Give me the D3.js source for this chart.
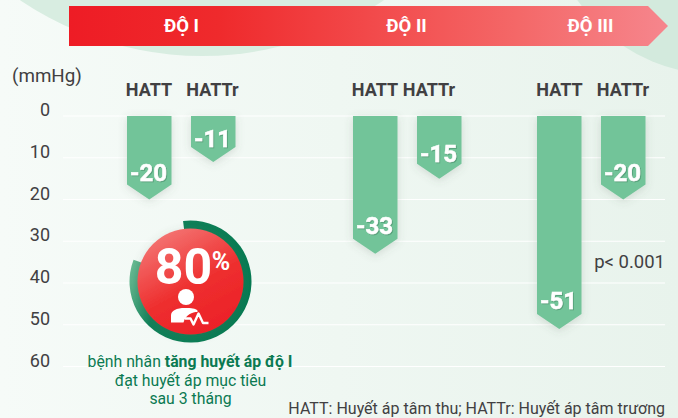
<!DOCTYPE html>
<html><head><meta charset="utf-8">
<script src="https://cdn.jsdelivr.net/npm/d3@7/dist/d3.min.js"></script>
<style>html,body{margin:0;padding:0;background:#f2f8f4}svg{display:block}text{font-family:Roboto,sans-serif}</style>
</head><body><div id="c"></div>
<script>
const grades = ["ĐỘ I","ĐỘ II","ĐỘ III"];
const measures = ["HATT","HATTr"];
const hattValues = [20,33,51];
const hattrValues = [11,15,20];
const yTicks = [0,10,20,30,40,50,60];
const barLeft = [127,353,537];
const gradeLabelX = [181.5,406.5,590.5];
const measureX = [[149,212.5],[375,429],[559.5,623]];
const hattLabelLift = [18.5,20,20];
const hattrLabelLift = [15,17,18.5];
const controlRate = 80;

const W=678,H=418;
const svg=d3.select("#c").append("svg").attr("width",W).attr("height",H);
const defs=svg.append("defs");
function lin(id,x1,y1,x2,y2,stops){
  const g=defs.append("linearGradient").attr("id",id).attr("x1",x1).attr("y1",y1).attr("x2",x2).attr("y2",y2);
  stops.forEach(s=>g.append("stop").attr("offset",s[0]).attr("stop-color",s[1]));
}
lin("bg",0,0.5,1,0.5,[[0,"#f6fbf8"],[1,"#e8f3ec"]]);
lin("ban",0,0,1,0,[[0,"#ee1c25"],[0.25,"#ef2a2c"],[0.5,"#f2494a"],[0.75,"#f46868"],[1,"#f6868d"]]);
lin("red",0.2,0,0.75,1,[[0,"#f47a78"],[0.55,"#ee2f2f"],[1,"#ec2027"]]);
lin("ring",0,0.3,1,0.6,[[0,"#74c29a"],[0.3,"#0f8058"],[1,"#067a52"]]);
const sh=defs.append("filter").attr("id","sh").attr("x","-30%").attr("y","-20%").attr("width","160%").attr("height","140%");
sh.append("feDropShadow").attr("dx",0).attr("dy",2).attr("stdDeviation",4).attr("flood-color","#55675c").attr("flood-opacity",0.2);
const ts=defs.append("filter").attr("id","ts").attr("x","-10%").attr("y","-10%").attr("width","120%").attr("height","130%");
ts.append("feDropShadow").attr("dx",1).attr("dy",1).attr("stdDeviation",0.4).attr("flood-color","#3b7f5c").attr("flood-opacity",0.5);

svg.append("rect").attr("width",W).attr("height",H).attr("fill","url(#bg)");
svg.append("circle").attr("cx",202).attr("cy",-268).attr("r",324).attr("fill","#d8ede1");
svg.append("circle").attr("cx",716.7).attr("cy",-93.7).attr("r",168).attr("fill","#d3eadd");

// banner
const bx0=69,by0=6,by1=46;
svg.append("path").attr("fill","url(#ban)")
  .attr("d",`M${bx0},${by0}H648L668,${(by0+by1)/2}L648,${by1}H${bx0}Z`);
svg.selectAll(".grade").data(grades).join("text").attr("class","grade")
  .attr("x",(d,i)=>gradeLabelX[i]).attr("y",32).attr("text-anchor","middle")
  .attr("fill","#fff").attr("font-weight",700).attr("font-size",18.5).text(d=>d);

// y axis
const y=d3.scaleLinear().domain([0,60]).range([116,366.5]);
svg.selectAll(".gl").data(yTicks).join("line").attr("class","gl")
  .attr("x1",63).attr("x2",665).attr("y1",d=>y(d)).attr("y2",d=>y(d))
  .attr("stroke","#fff").attr("stroke-width",1.2);
svg.selectAll(".yl").data(yTicks).join("text").attr("class","yl")
  .attr("x",50).attr("y",d=>y(d)).attr("text-anchor","end")
  .attr("fill","#414042").attr("font-size",18).text(d=>d);
svg.append("text").attr("x",12).attr("y",82).attr("fill","#414042").attr("font-size",18.8).text("(mmHg)");

// bars
const bw=44.5, gap=64, tip=15;
const bars=[];
grades.forEach((g,i)=>{
  bars.push({v:hattValues[i],x:barLeft[i],m:0,i,lift:hattLabelLift[i]});
  bars.push({v:hattrValues[i],x:barLeft[i]+gap,m:1,i,lift:hattrLabelLift[i]});
});
svg.selectAll(".bar").data(bars).join("path").attr("class","bar")
  .attr("fill","#72c499").attr("filter","url(#sh)")
  .attr("d",d=>{const b=y(d.v);return `M${d.x},${y(0)}H${d.x+bw}V${b-tip}L${d.x+bw/2},${b}L${d.x},${b-tip}Z`;});
svg.selectAll(".val").data(bars).join("text").attr("class","val")
  .attr("x",d=>d.x+bw/2-0.7).attr("y",d=>y(d.v)-d.lift).attr("text-anchor","middle")
  .attr("fill","#fff").attr("stroke","#fff").attr("stroke-width",0.5).attr("font-weight",700).attr("font-size",24).attr("filter","url(#ts)")
  .text(d=>"-"+d.v);
svg.selectAll(".ml").data(bars).join("text").attr("class","ml")
  .attr("x",d=>measureX[d.i][d.m]).attr("y",96).attr("text-anchor","middle")
  .attr("fill","#414042").attr("font-weight",700).attr("font-size",18).text(d=>measures[d.m]);

svg.append("text").attr("x",665).attr("y",268).attr("text-anchor","end").attr("fill","#414042").attr("font-size",18.5).text("p< 0.001");
svg.append("text").attr("x",665).attr("y",414).attr("text-anchor","end").attr("fill","#414042").attr("font-size",16).text("HATT: Huyết áp tâm thu; HATTr: Huyết áp tâm trương");

// 80% badge
const cx=190.5,cy=281.5;
const badge=svg.append("g").attr("transform",`translate(${cx},${cy})`);
const ringStart=-7*Math.PI/180;
const ringSweep=d3.scaleLinear().domain([0,80]).range([0,298*Math.PI/180]);
badge.append("path").attr("fill","url(#ring)")
  .attr("d",d3.arc().innerRadius(52).outerRadius(61).startAngle(ringStart).endAngle(ringStart+ringSweep(controlRate))());
badge.append("circle").attr("r",53).attr("fill","url(#red)").attr("filter","url(#sh)");
badge.append("text").attr("x",-7).attr("y",2).attr("text-anchor","middle").attr("fill","#fff").attr("font-weight",700).attr("font-size",50).text(controlRate);
badge.append("text").attr("x",30.5).attr("y",-11.5).attr("text-anchor","middle").attr("fill","#fff").attr("font-weight",700).attr("font-size",25).text("%");
badge.append("circle").attr("cx",-4.5).attr("cy",15.5).attr("r",8).attr("fill","#fff");
badge.append("path").attr("fill","#fff")
  .attr("d","M-19.5,41 V34 C-19.5,29 -14,26.5 -5.5,26.5 C1,26.5 5,27 7,29 L7,30.5 C2,30.5 -5,33 -7,41 Z");
badge.append("path").attr("fill","none").attr("stroke","#fff").attr("stroke-width",2.4).attr("stroke-linejoin","round")
  .attr("d","M-5.5,37 H0 L3,43 L8,32 L12.5,41.5 H18");

const note=svg.append("g").attr("text-anchor","middle").attr("fill","#0b7a52").attr("font-size",15.8);
const t1=note.append("text").attr("x",190).attr("y",367);
t1.append("tspan").text("bệnh nhân ");
t1.append("tspan").attr("font-weight",700).text("tăng huyết áp độ I");
note.append("text").attr("x",190.5).attr("y",385.6).text("đạt huyết áp mục tiêu");
note.append("text").attr("x",190.5).attr("y",404).text("sau 3 tháng");
</script></body></html>
